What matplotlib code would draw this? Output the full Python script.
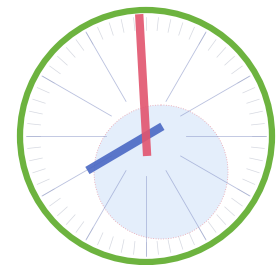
import numpy as np
import matplotlib
matplotlib.use("Agg")
import matplotlib.pyplot as plt
from matplotlib.patches import Circle

# clock face, in pixel units of the picture
center = (146, 136)
ring_radius = 126
hour_marks = np.arange(1, 12)       # long spokes; the 12 one sits under the red hand
minute_marks = np.arange(60)        # short ticks round the rim
spoke_span = (40, 120)
tick_span = (106, 119)

# light blue disc, offset from the centre
disc_offset = (15, 36)
disc_radius = 67

# hands: clock angle in degrees (0 = 12 o'clock), tip length, tail length
hand_names = ["minute", "hour"]
hand_angles = [-3.2, 239.5]
hand_tips = [122, 68]
hand_tails = [20, 19]
hand_colors = ["#e2546e", "#4a68c4"]


def polar(angle_deg, r):
    a = np.deg2rad(angle_deg)
    return center[0] + r * np.sin(a), center[1] - r * np.cos(a)


fig = plt.figure(figsize=(2.78, 2.65), dpi=100)
ax = fig.add_axes([0, 0, 1, 1])
ax.set_xlim(0, 278)
ax.set_ylim(265, 0)
ax.set_aspect("equal")
ax.axis("off")

disc = Circle((center[0] + disc_offset[0], center[1] + disc_offset[1]), disc_radius,
              facecolor="#e4eefb", edgecolor="#eaa0ad", lw=0.6, ls=(0, (1, 2)), zorder=1)
ax.add_patch(disc)

for m in minute_marks:
    ang = m * 6
    x0, y0 = polar(ang, tick_span[0])
    x1, y1 = polar(ang, tick_span[1])
    ax.plot([x0, x1], [y0, y1], color="#c4c8d4", lw=0.5, alpha=0.7, zorder=2)

for h in hour_marks:
    ang = h * 30
    x0, y0 = polar(ang, spoke_span[0])
    x1, y1 = polar(ang, spoke_span[1])
    ax.plot([x0, x1], [y0, y1], color="#8a96c8", lw=0.6, alpha=0.6, zorder=2)

ring = Circle(center, ring_radius, facecolor="none", edgecolor="#6db33f", lw=4.5, zorder=5)
ax.add_patch(ring)

for name, ang, tip, tail, col in zip(hand_names, hand_angles, hand_tips, hand_tails, hand_colors):
    xt, yt = polar(ang, tip)
    xb, yb = polar(ang + 180, tail)
    ax.plot([xb, xt], [yb, yt], color=col, lw=6, alpha=0.9,
            solid_capstyle="butt", zorder=4 if name == "minute" else 3)

fig.savefig("out.png", dpi=100)
